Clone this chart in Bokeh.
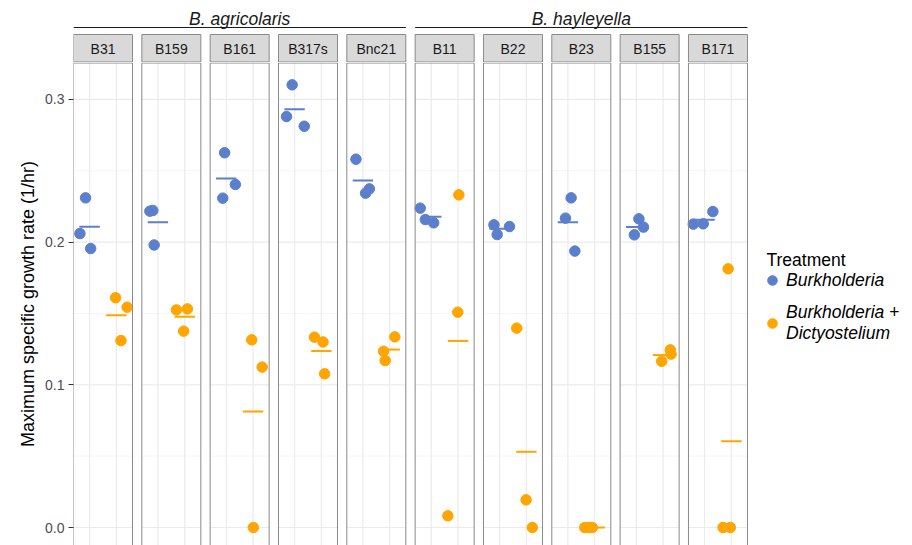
import numpy as np
from bokeh.plotting import figure
from bokeh.layouts import column
from bokeh.models import (Range1d, FixedTicker, PrintfTickFormatter, Legend, LegendItem,
                          ColumnDataSource, Label, Title)
from bokeh.core.properties import value
from bokeh.embed import file_html
from bokeh.resources import INLINE

# ---------------- data ----------------
strains = ["B31", "B159", "B161", "B317s", "Bnc21", "B11", "B22", "B23", "B155", "B171"]
species_groups = [("B. agricolaris", 0, 4), ("B. hayleyella", 5, 9)]
treatments = ["Burkholderia", "Burkholderia +\nDictyostelium"]
y_ticks = [0.0, 0.1, 0.2, 0.3]

burk_values = [
    [0.231, 0.206, 0.1955],
    [0.2217, 0.2222, 0.198],
    [0.2626, 0.2404, 0.2308],
    [0.3102, 0.288, 0.2812],
    [0.2581, 0.2373, 0.2343],
    [0.2238, 0.2158, 0.2135],
    [0.2121, 0.2053, 0.2109],
    [0.231, 0.2168, 0.1937],
    [0.2163, 0.2105, 0.2051],
    [0.2126, 0.2128, 0.2214],
]
burk_jitter = [
    [-0.15, -0.36, 0.04],
    [-0.30, -0.19, -0.14],
    [-0.06, 0.34, -0.13],
    [-0.09, -0.30, 0.36],
    [-0.26, 0.24, 0.10],
    [-0.41, -0.22, 0.09],
    [-0.21, -0.09, 0.37],
    [0.12, -0.09, 0.26],
    [0.10, 0.27, -0.07],
    [-0.42, -0.05, 0.31],
]
dicty_values = [
    [0.161, 0.1544, 0.131],
    [0.1525, 0.1532, 0.1376],
    [0.1315, 0.1124, 0.0],
    [0.1334, 0.130, 0.1077],
    [0.1336, 0.1235, 0.117],
    [0.2331, 0.1509, 0.0082],
    [0.1397, 0.0194, 0.0],
    [0.0, 0.0, 0.0],
    [0.1245, 0.1215, 0.1165],
    [0.1813, 0.0, 0.0],
]
dicty_jitter = [
    [-0.03, 0.40, 0.17],
    [-0.31, 0.10, -0.04],
    [-0.05, 0.34, 0.01],
    [-0.26, 0.06, 0.12],
    [0.19, -0.23, -0.17],
    [0.03, -0.01, -0.38],
    [-0.36, -0.01, 0.22],
    [-0.37, -0.21, -0.09],
    [0.27, 0.30, -0.05],
    [-0.12, -0.31, -0.04],
]

# ---------------- styling / layout ----------------
FONT = "Liberation Sans"
BIG = "17.5px"
BLUE = "#5B7FCC"
ORANGE = "#FFA500"
BORDER = "#8A8A8A"
GRID = "#EBEBEB"
MINOR = "#F4F4F4"

PX = 59 / 2.2                 # pixels per x unit
STEP = 68.33 / PX             # panel spacing in x units
offsets = [i * STEP for i in range(len(strains))]
W = 912
LB = 73
FRAME_W = W - LB
X_LO = 0.4
X_HI = X_LO + FRAME_W / PX
YPX = 1427.0
TOP_H = 62
BOT_H = 483

x_range = Range1d(X_LO, X_HI)

# ---------- top figure: strips and species labels ----------
top = figure(width=W, height=TOP_H, x_range=x_range, y_range=Range1d(0, TOP_H),
             x_axis_location=None, y_axis_location=None, toolbar_location=None,
             output_backend="svg", min_border_left=LB, min_border_right=0,
             min_border_top=0, min_border_bottom=0)
top.outline_line_color = None
top.grid.visible = False

strip_src = ColumnDataSource(dict(
    left=[o + 0.4 for o in offsets], right=[o + 2.6 for o in offsets],
    cx=[o + 1.5 for o in offsets], lab=strains))
top.quad(left="left", right="right", bottom=0.5, top=28, source=strip_src,
         fill_color="#D9D9D9", line_color=BORDER, line_width=1)
top.text(x="cx", y=13.7, text="lab", source=strip_src, text_align="center",
         text_baseline="middle", text_font=value(FONT), text_font_size="14px",
         text_color="#1A1A1A")

g_src = ColumnDataSource(dict(
    x0=[offsets[a] + 0.4 for _, a, b in species_groups],
    x1=[offsets[b] + 2.6 for _, a, b in species_groups],
    cx=[(offsets[a] + 0.4 + offsets[b] + 2.6) / 2 for _, a, b in species_groups],
    lab=[n for n, _, _ in species_groups]))
top.segment(x0="x0", x1="x1", y0=35, y1=35, source=g_src, line_color="#1A1A1A", line_width=1.2)
top.text(x="cx", y=43.5, text="lab", source=g_src, text_align="center",
         text_baseline="middle", text_font=value(FONT), text_font_size=BIG,
         text_font_style="italic", text_color="#1A1A1A")

# ---------- bottom figure: panels ----------
ylo, yhi = -18 / YPX, 465 / YPX
p = figure(width=W, height=BOT_H, x_range=x_range, y_range=Range1d(ylo, yhi),
           x_axis_location=None, toolbar_location=None, output_backend="svg",
           min_border_left=LB, min_border_right=0, min_border_top=0, min_border_bottom=0)
p.outline_line_color = None
p.grid.visible = False

# grid lines inside each panel
minor_ticks = [0.05, 0.15, 0.25]
hx0, hx1, hy, hc, hw = [], [], [], [], []
for o in offsets:
    for t in minor_ticks:
        hx0.append(o + 0.4); hx1.append(o + 2.6); hy.append(t); hc.append(MINOR); hw.append(0.8)
    for t in y_ticks:
        hx0.append(o + 0.4); hx1.append(o + 2.6); hy.append(t); hc.append(GRID); hw.append(1.2)
p.segment(x0=hx0, x1=hx1, y0=hy, y1=hy, line_color=hc, line_width=hw)
vx = [o + k for o in offsets for k in (1, 2)]
p.segment(x0=vx, x1=vx, y0=ylo, y1=yhi, line_color=GRID, line_width=1.2)

# points
def pts(vals, jit, pos):
    xs, ys = [], []
    for i, o in enumerate(offsets):
        for v, j in zip(vals[i], jit[i]):
            xs.append(o + pos + j); ys.append(v)
    return xs, ys

bx, by = pts(burk_values, burk_jitter, 1)
dx, dy = pts(dicty_values, dicty_jitter, 2)
r_b = p.scatter(bx, by, size=10.5, fill_color=BLUE, line_color=BLUE)
r_d = p.scatter(dx, dy, size=10.5, fill_color=ORANGE, line_color=ORANGE)

# mean lines
bm = [float(np.mean(v)) for v in burk_values]
dm = [float(np.mean(v)) for v in dicty_values]
p.segment(x0=[o + 1 - 0.38 for o in offsets], x1=[o + 1 + 0.38 for o in offsets],
          y0=bm, y1=bm, line_color=BLUE, line_width=2)
p.segment(x0=[o + 2 - 0.38 for o in offsets], x1=[o + 2 + 0.38 for o in offsets],
          y0=dm, y1=dm, line_color=ORANGE, line_width=2)

# panel borders
p.quad(left=[o + 0.4 for o in offsets], right=[o + 2.6 for o in offsets],
       bottom=ylo - 0.02, top=yhi - 0.5 / YPX, fill_color=None,
       line_color=BORDER, line_width=1)

# y axis
ax = p.yaxis[0]
ax.ticker = FixedTicker(ticks=y_ticks, minor_ticks=[])
ax.formatter = PrintfTickFormatter(format="%.1f")
ax.axis_line_color = None
ax.major_tick_in = 0
ax.major_tick_out = 5
ax.major_tick_line_color = "#333333"
ax.minor_tick_line_color = None
ax.major_label_text_font = FONT
ax.major_label_text_font_size = "14px"
ax.major_label_text_color = "#4D4D4D"
ax.major_label_standoff = 4

# y axis title
ytitle = Title(text="Maximum specific growth rate (1/hr)", align="center", offset=2,
               text_font=FONT, text_font_size="18px", text_font_style="normal",
               text_color="#000000", standoff=10)
p.add_layout(ytitle, "left")

# legend
p.add_layout(Label(x=693, y=286, x_units="screen", y_units="screen", text="Treatment",
                   text_align="left", text_baseline="middle", text_font=FONT,
                   text_font_size=BIG, text_color="#000000"))
legend = Legend(items=[LegendItem(label=treatments[0], renderers=[r_b]),
                       LegendItem(label=treatments[1], renderers=[r_d])],
                location=(687, 201))
legend.label_text_font = FONT
legend.label_text_font_size = BIG
legend.label_text_font_style = "italic"
legend.label_text_color = "#000000"
legend.label_text_line_height = 0.8
legend.border_line_color = None
legend.background_fill_alpha = 0
legend.glyph_width = 24
legend.glyph_height = 24
legend.label_standoff = 2
legend.spacing = 10
legend.margin = 0
legend.padding = 8
p.add_layout(legend, "center")

layout = column(top, p, spacing=0)
open("out.html", "w").write(file_html(layout, INLINE))
